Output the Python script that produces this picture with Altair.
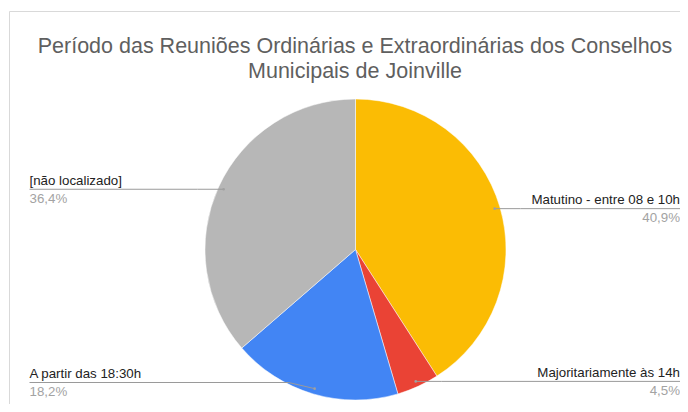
import altair as alt
import pandas as pd
import numpy as np

# ---- data ----
categories = ["Matutino - entre 08 e 10h", "Majoritariamente às 14h",
              "A partir das 18:30h", "[não localizado]"]
counts = [9, 1, 4, 8]
colors = ["#FBBC04", "#EA4335", "#4285F4", "#B7B7B7"]
title_lines = ["Período das Reuniões Ordinárias e Extraordinárias dos Conselhos",
               "Municipais de Joinville"]

# ---- layout ----
OFF = 8
W, H = 672, 396
CX, CY = 355.5 - OFF, 249.5 - OFF
R = 150.5
R_DOT = 145
RIGHT_X = 680 - OFF
LEFT_X = 29.5 - OFF
MAX_LINE_Y = 382.5 - OFF
ELBOW = 26
FONT = "Liberation Sans, Arial, Helvetica, sans-serif"

total = sum(counts)
slices, pts = [], []
cum = 0
for i, (c, n) in enumerate(zip(categories, counts)):
    start = cum / total * 2 * np.pi
    cum += n
    end = cum / total * 2 * np.pi
    mid = (start + end) / 2
    dx = CX + R_DOT * np.sin(mid)
    dy = CY - R_DOT * np.cos(mid)
    side = "right" if np.sin(mid) > 0 else "left"
    ly = min(dy, MAX_LINE_Y)
    pct = f"{n / total * 100:.1f}".replace(".", ",") + "%"
    if side == "right":
        ex, endx = dx + ELBOW, RIGHT_X
    else:
        ex, endx = dx - ELBOW, LEFT_X
    slices.append(dict(cat=c, n=n, idx=i, side=side, dx=dx, dy=dy,
                       tx=endx, ty=ly - 4.5, py=ly + 13.5, pct=pct))
    for k, (x, y) in enumerate([(dx, dy), (ex, ly), (endx, ly)]):
        pts.append(dict(cat=c, pt=k, x=x, y=y))

df = pd.DataFrame(slices)
dfp = pd.DataFrame(pts)
dft = pd.DataFrame({"t": title_lines, "y": [53 - OFF, 78 - OFF]})

border = alt.Chart(pd.DataFrame({"a": [0]})).mark_rect(
    fillOpacity=0, stroke="#d9d9d9", strokeWidth=1
).encode(x=alt.value(1.5), y=alt.value(3.5), x2=alt.value(W + 30), y2=alt.value(H + 30))

arcs = alt.Chart(df).mark_arc(outerRadius=R, stroke="white", strokeWidth=0.5).encode(
    theta=alt.Theta("n:Q", stack=True),
    order=alt.Order("idx:Q"),
    color=alt.Color("cat:N", scale=alt.Scale(domain=categories, range=colors), legend=None),
    x=alt.value(CX), y=alt.value(CY),
)

lines = alt.Chart(dfp).mark_line(color="#9a9a9a", strokeWidth=1).encode(
    x=alt.X("x:Q", scale=None, axis=None),
    y=alt.Y("y:Q", scale=None, axis=None),
    detail="cat:N", order="pt:Q",
)

dots = alt.Chart(df).mark_circle(size=7, color="#a0a0a0", opacity=1).encode(
    x=alt.X("dx:Q", scale=None, axis=None), y=alt.Y("dy:Q", scale=None, axis=None)
)

def labels(side, align):
    base = alt.Chart(df).transform_filter(alt.datum.side == side)
    name = base.mark_text(align=align, baseline="alphabetic", fontSize=13.3,
                          font=FONT, color="#222222").encode(
        x=alt.X("tx:Q", scale=None, axis=None), y=alt.Y("ty:Q", scale=None, axis=None),
        text="cat:N")
    pc = base.mark_text(align=align, baseline="alphabetic", fontSize=13.3,
                        font=FONT, color="#a3a3a3").encode(
        x=alt.X("tx:Q", scale=None, axis=None), y=alt.Y("py:Q", scale=None, axis=None),
        text="pct:N")
    return name + pc

title = alt.Chart(dft).mark_text(align="center", baseline="alphabetic", fontSize=21.5,
                                 font=FONT, color="#5f5f5f").encode(
    x=alt.value(355 - OFF), y=alt.Y("y:Q", scale=None, axis=None), text="t:N")

chart = alt.layer(border, arcs, lines, dots, labels("right", "right"),
                  labels("left", "left"), title).properties(
    width=W, height=H, padding=0, autosize=alt.AutoSizeParams(type="none"),
    background="white",
).configure_view(stroke=None)

chart.save("out.html", embed_options={"renderer": "svg", "actions": False})
